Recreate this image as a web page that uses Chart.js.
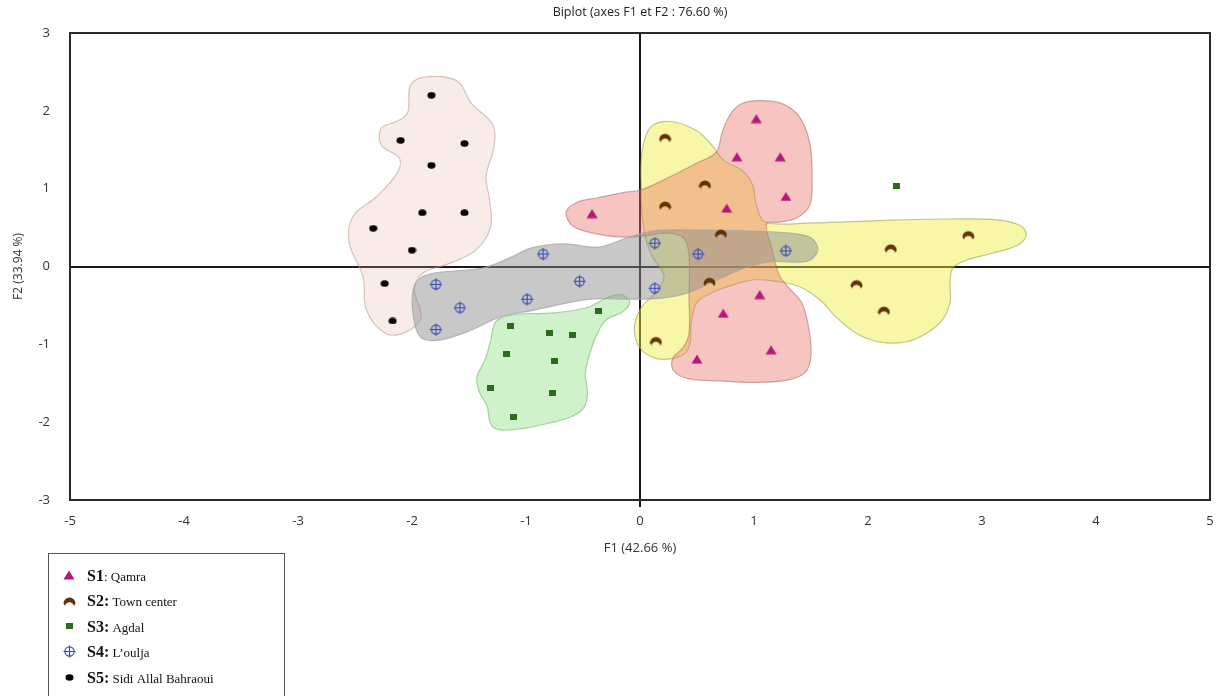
<!DOCTYPE html>
<html>
<head>
<meta charset="utf-8">
<title>Biplot (axes F1 et F2)</title>
<script src="https://cdn.jsdelivr.net/npm/chart.js@4.4.1/dist/chart.umd.min.js"></script>
<style>
  html, body { margin: 0; padding: 0; background: #fff; }
  #wrap { width: 1223px; height: 696px; }
</style>
</head>
<body>
<div id="wrap"><canvas id="myChart" width="1223" height="696"></canvas></div>
<script>
// site scores on F1 / F2
const s1X = [1.02, 0.85, 1.23, 1.28, 0.76, -0.42, 1.05, 0.73, 1.15, 0.50];
const s1Y = [1.90, 1.41, 1.41, 0.90, 0.75, 0.68, -0.36, -0.60, -1.07, -1.19];
const s2X = [0.22, 0.57, 0.22, 0.71, 0.61, 0.14, 2.20, 1.90, 2.14, 2.88];
const s2Y = [1.66, 1.06, 0.79, 0.43, -0.19, -0.95, 0.24, -0.22, -0.56, 0.41];
const s3X = [-0.36, -1.14, -0.79, -0.59, -1.17, -0.75, -1.31, -0.77, -1.11, 2.25];
const s3Y = [-0.57, -0.76, -0.85, -0.88, -1.13, -1.21, -1.56, -1.63, -1.93, 1.04];
const s4X = [-0.85, -1.79, -1.58, -1.79, -0.99, -0.53, 0.13, 0.13, 0.51, 1.28];
const s4Y = [0.16, -0.23, -0.53, -0.81, -0.42, -0.19, 0.30, -0.28, 0.16, 0.20];
const s5X = [-1.83, -2.10, -1.54, -1.83, -1.91, -1.54, -2.34, -2.00, -2.24, -2.17];
const s5Y = [2.20, 1.62, 1.58, 1.30, 0.69, 0.69, 0.49, 0.21, -0.22, -0.70];

// hand drawn group envelopes (F1, F2 outline points)
const s1Hull = [[-0.65,0.69],[-0.56,0.82],[-0.38,0.88],[-0.15,0.95],[0.02,0.99],[0.26,1.15],[0.50,1.33],[0.67,1.47],[0.72,1.72],[0.79,1.95],[0.89,2.09],[1.05,2.13],[1.25,2.09],[1.40,1.92],[1.49,1.58],[1.51,1.14],[1.49,0.79],[1.37,0.62],[1.22,0.57],[1.11,0.55],[1.16,0.21],[1.22,-0.11],[1.31,-0.28],[1.42,-0.47],[1.48,-0.79],[1.50,-1.14],[1.45,-1.36],[1.29,-1.46],[0.99,-1.49],[0.70,-1.47],[0.42,-1.44],[0.29,-1.33],[0.29,-1.17],[0.38,-1.04],[0.43,-0.86],[0.43,-0.37],[0.43,0.15],[0.38,0.37],[0.24,0.43],[0.02,0.39],[-0.18,0.38],[-0.38,0.42],[-0.58,0.51]];
const s2Hull = [[-0.05,-0.79],[0.01,-0.53],[0.14,-0.33],[0.21,-0.12],[0.10,0.15],[0.03,0.50],[0.01,0.99],[0.02,1.50],[0.10,1.80],[0.29,1.86],[0.50,1.74],[0.63,1.56],[0.73,1.37],[0.90,1.23],[0.99,1.04],[1.02,0.79],[1.10,0.57],[1.51,0.56],[2.10,0.59],[2.69,0.61],[3.13,0.60],[3.33,0.53],[3.39,0.41],[3.32,0.28],[3.09,0.17],[2.86,0.08],[2.74,-0.03],[2.72,-0.24],[2.72,-0.46],[2.65,-0.69],[2.51,-0.86],[2.33,-0.97],[2.10,-0.97],[1.90,-0.86],[1.72,-0.65],[1.58,-0.43],[1.40,-0.26],[1.20,-0.19],[1.00,-0.17],[0.83,-0.23],[0.64,-0.33],[0.50,-0.46],[0.45,-0.71],[0.44,-0.97],[0.40,-1.11],[0.29,-1.18],[0.14,-1.18],[0.00,-1.05]];
const s3Hull = [[-1.23,-0.67],[-1.06,-0.61],[-0.79,-0.60],[-0.47,-0.53],[-0.30,-0.41],[-0.17,-0.36],[-0.09,-0.45],[-0.15,-0.58],[-0.30,-0.69],[-0.38,-0.88],[-0.44,-1.12],[-0.48,-1.38],[-0.46,-1.63],[-0.50,-1.83],[-0.62,-1.94],[-0.82,-2.02],[-1.03,-2.08],[-1.23,-2.10],[-1.31,-2.02],[-1.34,-1.80],[-1.41,-1.61],[-1.43,-1.42],[-1.36,-1.20],[-1.31,-0.95],[-1.28,-0.75]];
const s4Hull = [[-1.93,-0.15],[-1.79,-0.08],[-1.38,-0.02],[-1.13,0.12],[-0.95,0.24],[-0.66,0.29],[-0.36,0.25],[-0.11,0.37],[0.13,0.46],[0.43,0.47],[0.87,0.46],[1.31,0.43],[1.50,0.37],[1.56,0.21],[1.47,0.07],[1.14,0.06],[0.92,-0.02],[0.65,-0.19],[0.42,-0.34],[0.17,-0.41],[-0.09,-0.42],[-0.44,-0.42],[-0.93,-0.56],[-1.23,-0.65],[-1.50,-0.83],[-1.78,-0.95],[-1.93,-0.90],[-1.99,-0.62],[-1.99,-0.30]];
const s5Hull = [[-2.01,2.34],[-1.85,2.44],[-1.60,2.38],[-1.48,2.10],[-1.29,1.82],[-1.28,1.54],[-1.35,1.16],[-1.32,0.86],[-1.31,0.51],[-1.44,0.21],[-1.67,0.04],[-1.91,-0.09],[-1.98,-0.30],[-1.92,-0.65],[-2.05,-0.84],[-2.23,-0.86],[-2.40,-0.56],[-2.43,-0.13],[-2.55,0.30],[-2.52,0.64],[-2.31,0.90],[-2.13,1.20],[-2.11,1.39],[-2.27,1.56],[-2.27,1.78],[-2.14,1.86],[-2.04,1.97]];

const xTickValues = [-5, -4, -3, -2, -1, 0, 1, 2, 3, 4, 5];
const yTickValues = [-3, -2, -1, 0, 1, 2, 3];

const siteCodes = ["S1", "S2:", "S3:", "S4:", "S5:"];
const siteNames = [": Qamra", " Town center", " Agdal", " L\u2019oulja", " Sidi Allal Bahraoui"];

// --- marker glyphs ---
function makeMarker(w, h, paint) {
  const c = document.createElement("canvas");
  c.width = w;
  c.height = h;
  paint(c.getContext("2d"));
  return c;
}

const triangleIcon = makeMarker(12, 10, g => {
  g.fillStyle = "#b5177b";
  g.beginPath();
  g.moveTo(6, 0.5);
  g.lineTo(11.5, 9.5);
  g.lineTo(0.5, 9.5);
  g.closePath();
  g.fill();
});
const crescentIcon = makeMarker(13, 12, g => {
  g.fillStyle = "#633307";
  g.beginPath();
  g.arc(6.5, 8.5, 6, Math.PI, 2 * Math.PI);
  g.arc(6.5, 11.6, 4.4, -0.12, Math.PI + 0.12, true);
  g.closePath();
  g.fill();
});
const squareIcon = makeMarker(7, 6, g => {
  g.fillStyle = "#2c6a1c";
  g.fillRect(0, 0, 7, 6);
});
const crossIcon = makeMarker(13, 13, g => {
  g.strokeStyle = "#3a4cb3";
  g.lineWidth = 1.2;
  g.beginPath();
  g.arc(6.5, 6.5, 4.6, 0, 2 * Math.PI);
  g.stroke();
  g.beginPath();
  g.moveTo(0.5, 6.5); g.lineTo(12.5, 6.5);
  g.moveTo(6.5, 0.5); g.lineTo(6.5, 12.5);
  g.stroke();
});
const dotIcon = makeMarker(9, 7, g => {
  g.fillStyle = "#000";
  g.beginPath();
  g.ellipse(4.5, 3.5, 4, 3.2, 0, 0, 2 * Math.PI);
  g.fill();
});
const siteIcons = [triangleIcon, crescentIcon, squareIcon, crossIcon, dotIcon];

// closed smooth outline: a line controller whose path loops back to the start
class HullController extends Chart.LineController {
  update(mode) {
    super.update(mode);
    const outline = this._cachedMeta.dataset;
    outline._loop = true;
    outline._fullLoop = true;
    outline._segments = undefined;
    outline._pointsUpdated = false;
    outline._path = undefined;
  }
}
HullController.id = "hull";
HullController.defaults = { ...Chart.LineController.defaults };
Chart.register(HullController);

function pts(xs, ys) {
  return xs.map((x, i) => ({ x: x, y: ys[i] }));
}

function hullDataset(outline, fillColor, lineColor, order) {
  return {
    type: "hull",
    data: outline.map(p => ({ x: p[0], y: p[1] })),
    backgroundColor: fillColor,
    borderColor: lineColor,
    borderWidth: 1.2,
    fill: "shape",
    tension: 0.35,
    pointRadius: 0,
    pointHitRadius: 0,
    order: order
  };
}

function siteDataset(label, xs, ys, icon) {
  return {
    type: "scatter",
    label: label,
    data: pts(xs, ys),
    pointStyle: icon,
    pointRadius: 5,
    order: 0
  };
}

const zeroLine = c => (c.tick && c.tick.value === 0 ? "#1a1a1a" : "rgba(0,0,0,0)");
const zeroWidth = c => (c.tick && c.tick.value === 0 ? 2 : 0);
const axisFont = { family: "'Open Sans', sans-serif", size: 13 };

const framePlugin = {
  id: "frame",
  afterDatasetsDraw(chart) {
    const { left, top, right, bottom } = chart.chartArea;
    const g = chart.ctx;
    g.save();
    g.strokeStyle = "#2a2a2a";
    g.lineWidth = 2;
    g.strokeRect(left, top, right - left, bottom - top);
    g.restore();
  }
};

const legendPlugin = {
  id: "siteLegend",
  afterDraw(chart) {
    const g = chart.ctx;
    g.save();
    g.strokeStyle = "#555";
    g.lineWidth = 1;
    g.strokeRect(48.5, 553.5, 236, 160);
    siteCodes.forEach((code, i) => {
      const y = 575 + i * 25.5;
      const icon = siteIcons[i];
      g.drawImage(icon, Math.round(69 - icon.width / 2), Math.round(y - icon.height / 2));
      g.fillStyle = "#111";
      g.textBaseline = "alphabetic";
      g.font = "bold 16px 'Liberation Serif', serif";
      g.fillText(code, 87, y + 5.5);
      const w = g.measureText(code).width;
      g.font = "13px 'Liberation Serif', serif";
      g.fillText(siteNames[i], 87 + w, y + 5.5);
    });
    g.restore();
  }
};

function createChart(canvasId) {
  const ctx = document.getElementById(canvasId).getContext("2d");
  new Chart(ctx, {
    type: "scatter",
    data: {
      datasets: [
        siteDataset("S1", s1X, s1Y, triangleIcon),
        siteDataset("S2", s2X, s2Y, crescentIcon),
        siteDataset("S3", s3X, s3Y, squareIcon),
        siteDataset("S4", s4X, s4Y, crossIcon),
        siteDataset("S5", s5X, s5Y, dotIcon),
        hullDataset(s4Hull, "rgba(140,140,140,0.48)", "rgba(165,165,165,0.75)", 1),
        hullDataset(s1Hull, "rgba(235,110,100,0.40)", "rgba(165,110,100,0.55)", 2),
        hullDataset(s2Hull, "rgba(238,238,60,0.45)", "rgba(150,150,80,0.55)", 3),
        hullDataset(s3Hull, "rgba(140,225,130,0.42)", "rgba(120,180,110,0.6)", 4),
        hullDataset(s5Hull, "rgba(225,170,160,0.24)", "rgba(190,160,150,0.6)", 5)
      ]
    },
    options: {
      responsive: false,
      animation: false,
      events: [],
      layout: { padding: { left: 4, right: 13, top: 0, bottom: 136 } },
      plugins: {
        legend: { display: false },
        tooltip: { enabled: false },
        title: {
          display: true,
          fullSize: false,
          text: "Biplot (axes F1 et F2 : 76.60 %)",
          color: "#222",
          font: { family: "'Liberation Sans Narrow', 'Open Sans', sans-serif", size: 12.5, weight: "normal" },
          padding: { top: 5, bottom: 13 }
        }
      },
      scales: {
        x: {
          type: "linear",
          min: -5,
          max: 5,
          z: 1,
          afterBuildTicks: s => { s.ticks = xTickValues.map(v => ({ value: v })); },
          afterFit: s => { s.height = 60; },
          grid: { color: zeroLine, lineWidth: zeroWidth, drawTicks: true, tickLength: 7, tickColor: zeroLine, tickWidth: 2 },
          border: { display: false },
          ticks: { padding: 6, color: "#333", font: axisFont, maxRotation: 0, autoSkip: false },
          title: { display: true, text: "F1 (42.66 %)", color: "#333", font: axisFont, padding: { top: 0, bottom: 4 } }
        },
        y: {
          type: "linear",
          min: -3,
          max: 3,
          z: 1,
          afterBuildTicks: s => { s.ticks = yTickValues.map(v => ({ value: v })); },
          afterFit: s => { s.width = 66; },
          grid: { color: zeroLine, lineWidth: zeroWidth, drawTicks: false },
          border: { display: false },
          ticks: { padding: 20, color: "#333", font: axisFont, autoSkip: false },
          title: { display: true, text: "F2 (33.94 %)", color: "#333", font: { family: "'Open Sans', sans-serif", size: 12 }, padding: { top: 7, bottom: 0 } }
        }
      }
    },
    plugins: [framePlugin, legendPlugin]
  });
}

createChart("myChart");
</script>
</body>
</html>
